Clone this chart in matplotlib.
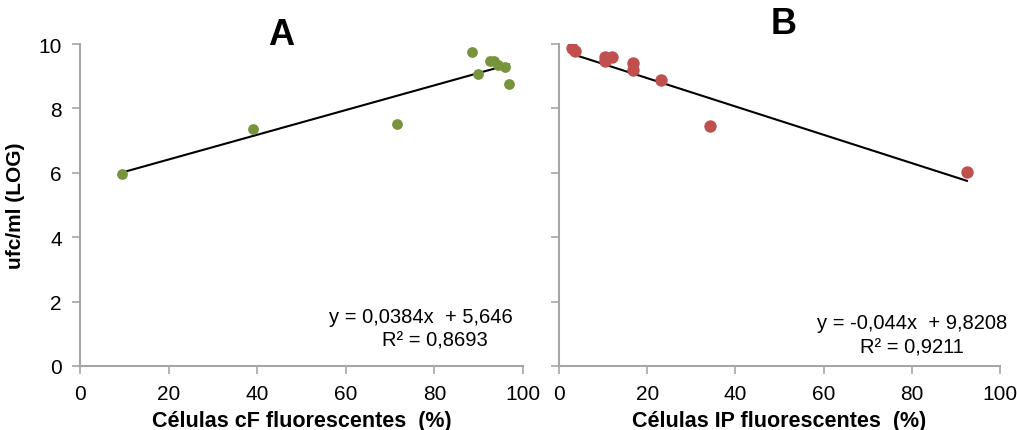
import matplotlib.pyplot as plt
import numpy as np

plt.rcParams['font.family'] = ['Liberation Sans Narrow', 'Liberation Sans', 'DejaVu Sans']

# Panel A: cF fluorescent cells vs ufc/ml (LOG)
cf_x = [9.5, 39, 71.5, 88.5, 89.8, 92.5, 93.5, 94.4, 96, 96.8]
cf_y = [5.97, 7.35, 7.53, 9.75, 9.08, 9.47, 9.47, 9.35, 9.28, 8.75]
cf_slope, cf_icpt = 0.0384, 5.646
cf_eq = ['y = 0,0384x  + 5,646', 'R² = 0,8693']

# Panel B: IP fluorescent cells vs ufc/ml (LOG)
ip_x = [2.9, 3.6, 10.4, 10.4, 12, 16.8, 16.8, 23.1, 34.2, 92.5]
ip_y = [9.88, 9.78, 9.6, 9.47, 9.6, 9.4, 9.2, 8.87, 7.45, 6.04]
ip_slope, ip_icpt = -0.044, 9.8208
ip_eq = ['y = -0,044x  + 9,8208', 'R² = 0,9211']

xticks = [0, 20, 40, 60, 80, 100]
yticks = [0, 2, 4, 6, 8, 10]

fig = plt.figure(figsize=(10.17, 4.31), dpi=100)
axA = fig.add_axes([0.0787, 0.1485, 0.4356, 0.747])
axB = fig.add_axes([0.5497, 0.1485, 0.4336, 0.747])

panels = [
    (axA, cf_x, cf_y, cf_slope, cf_icpt, cf_eq, '#77933C', 'A',
     'Células cF fluorescentes  (%)', 60, (0.455, 1.03), (0.77, 0.155), (0.80, 0.08)),
    (axB, ip_x, ip_y, ip_slope, ip_icpt, ip_eq, '#C0504D', 'B',
     'Células IP fluorescentes  (%)', 80, (0.51, 1.065), (0.80, 0.135), (0.80, 0.06)),
]

for ax, xs, ys, m, b, eq, col, letter, xlab, msize, lpos, e1, e2 in panels:
    ax.scatter(xs, ys, s=msize, color=col, zorder=3, linewidths=0)
    lx = np.array([min(xs), max(xs)])
    ax.plot(lx, m * lx + b, color='black', lw=1.5, zorder=2)
    ax.set_xlim(0, 100)
    ax.set_ylim(0, 10)
    ax.set_xticks(xticks)
    ax.set_yticks(yticks)
    for s in ['top', 'right']:
        ax.spines[s].set_visible(False)
    for s in ['left', 'bottom']:
        ax.spines[s].set_color('#a6a6a6')
        ax.spines[s].set_linewidth(1.5)
    ax.tick_params(colors='#a6a6a6', labelcolor='black', labelsize=15,
                   width=1.2, length=6, direction='out', pad=7)
    ax.set_xlabel(xlab, fontsize=15.5, fontweight='bold', labelpad=5)
    ax.text(lpos[0], lpos[1], letter, transform=ax.transAxes, fontsize=26,
            fontweight='bold', ha='center', va='center')
    ax.text(e1[0], e1[1], eq[0], transform=ax.transAxes, fontsize=14.5,
            ha='center', va='center')
    ax.text(e2[0], e2[1], eq[1], transform=ax.transAxes, fontsize=14.5,
            ha='center', va='center')

axA.set_ylabel('ufc/ml (LOG)', fontsize=15, fontweight='bold', labelpad=10)
axB.set_yticklabels([])

fig.savefig('out.png', dpi=100)
